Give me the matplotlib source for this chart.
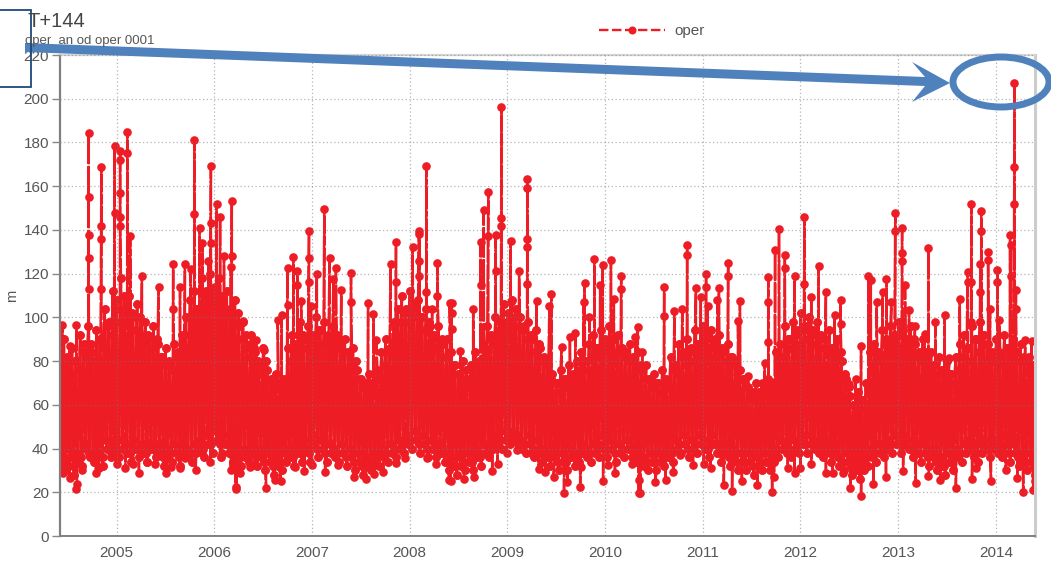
import numpy as np
import matplotlib
matplotlib.use("Agg")
import matplotlib.pyplot as plt
from matplotlib.lines import Line2D
from matplotlib.patches import Ellipse, Polygon, Rectangle

plt.rcParams['font.family'] = ['Liberation Sans', 'DejaVu Sans']

band_start = 2004.42
band_step = 1 / 24
band_highs = [
    84,90,78,86,80,92,88,96,84,94,90,104,98,112,108,118,104,110,100,106,92,98,90,96,
    88,82,86,78,88,84,92,100,108,112,104,118,112,120,114,118,106,112,104,108,96,98,86,92,
    84,78,86,76,70,74,68,72,86,92,88,98,90,96,92,100,94,98,90,96,92,88,90,84,
    86,76,72,70,74,68,76,84,90,86,98,104,110,104,112,106,108,100,104,96,92,96,88,90,
    84,78,74,80,72,78,84,80,88,96,92,100,98,106,102,108,104,100,96,98,90,94,86,82,
    78,74,70,76,72,78,74,80,84,80,88,92,86,94,90,96,90,92,86,84,88,80,84,76,
    78,72,74,70,76,72,82,78,88,84,90,86,94,88,96,92,94,90,92,84,88,82,80,76,
    72,68,66,70,64,68,72,70,84,88,96,90,98,94,102,96,100,94,98,92,90,94,86,90,
    80,72,64,60,66,62,70,84,88,84,94,90,96,92,98,94,90,96,88,84,90,80,84,78,
    82,76,80,74,82,88,92,86,96,90,98,92,88,84,90,82,92,86,90,84,88,80,82,78,
]
band_lows = [
    34,30,36,28,34,32,40,36,34,38,32,40,36,42,36,40,38,34,40,36,38,34,40,36,
    38,32,36,34,38,32,38,36,34,38,40,36,42,38,44,36,42,38,34,40,32,36,34,38,
    32,36,30,34,28,32,30,34,36,32,38,34,40,34,42,36,40,34,38,36,34,38,32,36,
    30,34,28,32,30,34,32,36,34,38,36,40,38,42,40,44,38,42,36,40,36,38,34,30,
    32,28,32,30,34,30,36,32,38,36,40,42,40,44,42,44,42,40,38,42,36,40,34,36,
    32,36,30,34,30,36,32,34,38,36,34,38,36,42,36,40,34,38,36,40,36,34,38,32,
    30,34,30,34,32,36,34,40,38,42,36,40,38,42,40,36,42,38,34,38,32,36,30,34,
    30,34,28,32,30,34,30,34,36,40,38,36,40,38,42,38,42,40,38,36,40,34,38,32,
    30,34,28,30,26,30,32,36,34,38,36,40,38,42,38,42,40,36,38,34,38,32,36,30,
    32,28,34,30,36,34,38,40,36,34,38,40,36,40,38,36,42,34,38,32,34,30,34,28,
]
band2_highs = [
    78,82,74,80,76,84,82,88,80,90,86,96,92,104,98,110,100,102,94,100,88,92,86,90,
    82,78,80,76,82,78,86,92,100,104,98,110,106,112,108,110,100,104,98,102,90,92,82,86,
    80,74,80,72,68,70,64,68,80,86,84,92,86,90,88,94,88,92,86,90,86,84,84,78,
    80,72,68,66,70,66,72,78,84,82,92,98,102,98,104,100,100,94,98,90,86,90,82,84,
    78,74,70,76,68,72,78,76,84,90,88,94,92,98,96,100,96,94,90,92,84,88,80,78,
    72,70,66,72,68,72,70,76,80,76,82,86,82,88,84,90,84,86,82,80,82,76,78,72,
    72,68,70,66,70,68,76,74,82,78,84,80,88,84,90,86,88,84,86,80,82,78,76,72,
    68,64,62,66,60,64,68,66,78,82,90,86,92,88,94,90,92,88,90,86,84,86,80,84,
    74,68,60,58,62,58,66,78,82,80,88,84,90,86,92,88,84,90,82,80,84,76,78,74,
    76,72,74,70,76,82,86,80,90,84,92,88,82,80,84,78,86,80,84,80,82,76,78,74,
]
band2_lows = [
    38,34,40,32,38,36,42,38,38,42,36,44,40,44,40,44,42,38,44,40,42,38,42,40,
    42,36,40,38,42,36,42,40,38,42,44,40,46,42,48,42,46,42,38,44,36,40,38,42,
    36,40,34,38,32,36,34,38,40,36,42,38,44,38,46,40,44,38,42,40,38,42,36,40,
    34,38,32,36,34,38,36,40,38,42,40,44,42,46,44,48,42,46,40,44,40,42,38,34,
    36,32,36,34,38,34,40,36,42,40,44,46,44,48,46,48,46,44,42,46,40,44,38,40,
    36,40,34,38,34,40,36,38,42,40,38,42,40,46,40,44,38,42,40,44,40,38,42,36,
    34,38,34,38,36,40,38,44,42,46,40,44,42,46,44,40,46,42,38,42,36,40,34,38,
    34,38,32,36,34,38,34,38,40,44,42,40,44,42,46,42,46,44,42,40,44,38,42,36,
    34,38,32,34,30,34,36,40,38,42,40,44,42,46,42,46,44,40,42,38,42,36,40,34,
    36,32,38,34,40,38,42,44,40,38,42,44,40,44,42,40,46,38,42,36,38,34,38,32,
]

peak_years = [
    2004.446,2004.52,2004.59,
    2004.716,2004.716,2004.716,2004.716,2004.716,2004.845,2004.845,2004.845,2004.84,
    2004.98,2004.98,2005.037,2005.037,2005.037,2005.037,2005.037,2005.111,2005.111,2005.14,
    2005.26,2005.43,2005.58,2005.58,2005.65,2005.70,2005.76,2005.797,2005.797,2005.85,2005.88,2005.94,
    2005.966,2005.966,2005.966,2006.024,2006.06,2006.10,2006.18,2006.18,2006.17,2006.29,2006.37,
    2006.43,2006.51,2006.65,2006.69,2006.75,2006.75,2006.81,2006.85,2006.85,2006.89,
    2006.97,2006.97,2006.97,2006.99,2007.05,2007.127,2007.18,2007.245,2007.22,2007.30,2007.40,2007.40,
    2007.575,2007.63,2007.66,2007.805,2007.86,2007.86,2008.03,2008.095,2008.10,2008.095,2008.095,
    2008.17,2008.17,2008.285,2008.285,2008.23,2008.41,
    2008.43,2008.43,2008.43,2008.52,2008.65,2008.726,2008.726,2008.757,2008.805,2008.805,2008.88,2008.88,
    2008.94,2008.94,2008.94,2009.034,2009.034,2009.12,2009.205,2009.205,2009.205,2009.205,2009.205,
    2009.30,2009.45,2009.43,2009.555,2009.64,2009.695,2009.79,2009.78,2009.89,2009.84,2009.976,2009.95,
    2010.06,2010.165,2010.165,2010.09,2010.335,2010.31,2010.38,
    2010.605,2010.605,2010.71,2010.79,2010.84,2010.84,2010.93,2011.034,2011.034,2010.98,2011.05,
    2011.165,2011.15,2011.26,2011.26,2011.38,2011.36,2011.465,2011.61,2011.635,
    2011.67,2011.67,2011.67,2011.74,2011.78,2011.84,2011.84,2011.94,2012.04,2012.04,2012.11,2012.185,
    2012.26,2012.35,2012.41,2012.41,2012.50,2012.565,2012.62,2012.695,2012.72,2012.78,2012.84,2012.88,2012.93,
    2012.97,2012.97,2013.04,2013.04,2013.04,2013.07,2013.11,2013.17,2013.31,2013.27,2013.38,2013.475,2013.52,
    2013.63,2013.71,2013.71,2013.75,2013.75,2013.75,2013.85,2013.85,2013.84,2013.84,2013.92,2013.92,2013.94,
    2014.015,2014.015,2014.035,2014.145,2014.155,2014.15,2014.19,2014.19,2014.19,2014.205,2014.205,2014.30,2014.365,
]
peak_values = [
    96.6,87,96.6,
    184.3,155,137.5,127,113,168.7,142,136,113,
    178.5,147.7,176,171.8,156.8,146,142,184.6,175,137,
    118.7,113.7,124.6,103.7,114,124.3,122,181.2,147.4,141,134,126,
    169.3,143,134,151.9,145.8,128,153,128,123,98.5,88,
    89.7,85,98.9,101,122.8,105.8,127.5,121,115,107.7,
    139.6,127,116.4,105,120,149.7,127,122.5,117.5,112.6,120.5,107,
    106.5,101.6,89.7,124.5,134.6,116,132.4,139.7,138,126,118.7,
    169.3,111.8,125,110,103.7,106.5,
    106.5,102,94.7,84.7,104,134.4,115,148.9,157.4,137,137.8,121,
    196,145.4,141.6,135,107,121,163.2,159,136,132.4,115.3,
    107.7,110.5,105,86.3,91,92.7,115.6,107,126.5,100,124,115,
    126.3,119,113,108.5,95.8,91,84,
    114,100.8,103,104,132.9,128.6,113.5,119.8,114,109.5,105,
    113.4,108,125,118.7,107.7,98.5,73.4,70,79.3,
    118.4,107,88.6,131,140.4,128.3,122.8,119,146,115.3,109.5,123.7,
    111.5,101,108,97,69.6,71.8,86.7,119,117,107,111.8,117.5,107,
    147.7,139.3,141,129.4,125.6,115,103.4,96,131.7,92.3,97.8,101,81.3,
    108.5,120.7,116,151.9,116,98,148.8,139.7,124.5,111.5,130,126.3,104,
    121.7,116.4,99,137.8,133,119,207.3,168.7,152,112.6,103.9,89.7,89,
]
trough_years = [
    2004.45,2004.52,2004.59,2004.595,2004.65,2004.79,2004.82,2004.86,2004.94,2005.0,2005.005,2005.09,2005.17,2005.23,
    2005.31,2005.39,2005.51,2005.56,2005.65,2005.70,2005.81,2005.87,2005.96,2006.08,2006.17,2006.22,2006.225,2006.26,2006.37,
    2006.42,2006.53,2006.62,2006.68,2006.83,2006.92,2007.0,2007.135,2007.27,2007.43,2007.55,2007.64,2007.73,2007.86,
    2007.95,2008.18,2008.27,2008.40,2008.42,2008.555,2008.66,2008.845,2008.90,2008.995,2009.10,2009.26,2009.32,2009.39,
    2009.475,2009.58,2009.615,2009.745,2009.75,2009.98,2010.03,2010.10,2010.28,2010.345,2010.35,2010.36,2010.515,2010.62,
    2010.70,2010.77,2010.90,2011.01,2011.08,2011.215,2011.30,2011.40,2011.56,2011.71,2011.73,2011.87,2011.94,2012.0,
    2012.11,2012.26,2012.33,2012.44,2012.51,2012.62,2012.745,2012.875,2013.05,2013.18,2013.31,2013.43,2013.59,2013.755,
    2013.80,2013.95,2014.10,2014.22,2014.28,2014.38,2014.395,
]
trough_values = [
    28.7,26.7,21.5,24,30,28.7,31.3,36,38,35.6,33,31,33,28.7,
    34,33,29,31.7,31,35.5,30,38,34,38,30,22.6,21.5,28.7,31.7,
    32.5,21.8,25.6,25,31.7,29.8,32.5,29.4,32.5,27,26,28.2,29.4,33.6,
    35.5,35.5,33,25.6,25,26,27,29.8,33,38,39.5,37,30.5,29.4,
    27,19.6,24.6,22.6,31.7,25,32.5,28.7,33,19.6,25.6,19.6,24.5,25.6,
    29.4,37,32.5,33,31,23.3,20.5,25,23.3,20.3,27,31,28.7,31,
    33,29,28.7,28.7,21.8,18.5,23.7,27,29.8,24.4,27.6,25.6,22.1,26,
    31,25,30,26.7,20.3,21,25,
]
year_ticks = [2005, 2006, 2007, 2008, 2009, 2010, 2011, 2012, 2013, 2014]
value_ticks = [0, 20, 40, 60, 80, 100, 120, 140, 160, 180, 200, 220]

band_x = band_start + band_step * np.arange(len(band_highs))
band_xs = np.concatenate([band_x, band_x + band_step / 2,
                          band_x + band_step / 4, band_x + 3 * band_step / 4])
band_ys = np.concatenate([band_highs, band_lows, band2_lows, band2_highs])
x = np.concatenate([band_xs, np.array(peak_years), np.array(trough_years)])
y = np.concatenate([band_ys, peak_values, trough_values])
order = np.argsort(x, kind='stable')
band_order = np.argsort(band_xs, kind='stable')

RED = '#ee1c25'
BLUE = '#4f81bd'
W, H = 1051, 561
fig = plt.figure(figsize=(W / 100, H / 100), dpi=100)
ax = fig.add_axes([60 / W, 1 - 536 / H, 975 / W, 481 / H])
ax.plot(band_xs[band_order], band_ys[band_order], color=RED, lw=1.8, ls='-', marker='o',
        ms=6.2, mew=0, zorder=2)
ax.plot(x[order], y[order], color=RED, lw=1.8, ls=(0, (12, 0.8)),
        marker='o', ms=6.2, mew=0, zorder=2)
legend_line = Line2D([], [], color=RED, lw=1.7, ls=(0, (4, 1.5)), marker='o', ms=5.8, mew=0)
ax.set_xlim(2004.4217, 2014.40)
ax.set_ylim(0, 220)
ax.set_xticks(year_ticks)
ax.set_xticklabels([str(v) for v in year_ticks])
ax.set_yticks(value_ticks)
ax.tick_params(axis='x', length=0, labelsize=11, labelcolor='#555555', pad=7)
ax.tick_params(axis='y', length=6, width=1, color='#888888', labelsize=11,
               labelcolor='#555555', pad=2)
ax.set_axisbelow(False)
ax.grid(True, ls=(0, (1, 2)), color='#777777', lw=0.9, alpha=0.55, zorder=3)
ax.set_ylabel('m', fontsize=10.5, color='#555555', labelpad=3)
ax.spines['left'].set_color('#808080')
ax.spines['left'].set_linewidth(1.6)
ax.spines['bottom'].set_color('#808080')
ax.spines['bottom'].set_linewidth(1.4)
ax.spines['right'].set_color('#cccccc')
ax.spines['right'].set_linewidth(2.2)
ax.spines['top'].set_color('#d5d5d5')
ax.spines['top'].set_linewidth(1.6)

fig.legend(handles=[legend_line], labels=['oper'], loc='center', bbox_to_anchor=(652 / W, 1 - 31 / H),
           frameon=False, fontsize=11, labelcolor='#555555', handlelength=4.3, handletextpad=0.6)
fig.text(28 / W, 1 - 27 / H, 'T+144', fontsize=14.5, color='#444444')
fig.text(25 / W, 1 - 44 / H, 'oper  an od oper 0001', fontsize=9.5, color='#555555')

overlay = fig.add_axes([0, 0, 1, 1], facecolor='none')
overlay.set_xlim(0, W)
overlay.set_ylim(H, 0)
overlay.axis('off')
overlay.add_patch(Polygon([(25, 43), (925, 77), (912, 62), (950, 83), (912, 102), (925, 86), (25, 52)],
                          closed=True, fc=BLUE, ec='none'))
overlay.add_patch(Ellipse((1001, 82), 96, 50, fill=False, ec=BLUE, lw=5))
overlay.add_patch(Rectangle((-5, 10), 36, 77, fill=False, ec='#1f497d', lw=1.3))

fig.savefig('out.png', dpi=100)
